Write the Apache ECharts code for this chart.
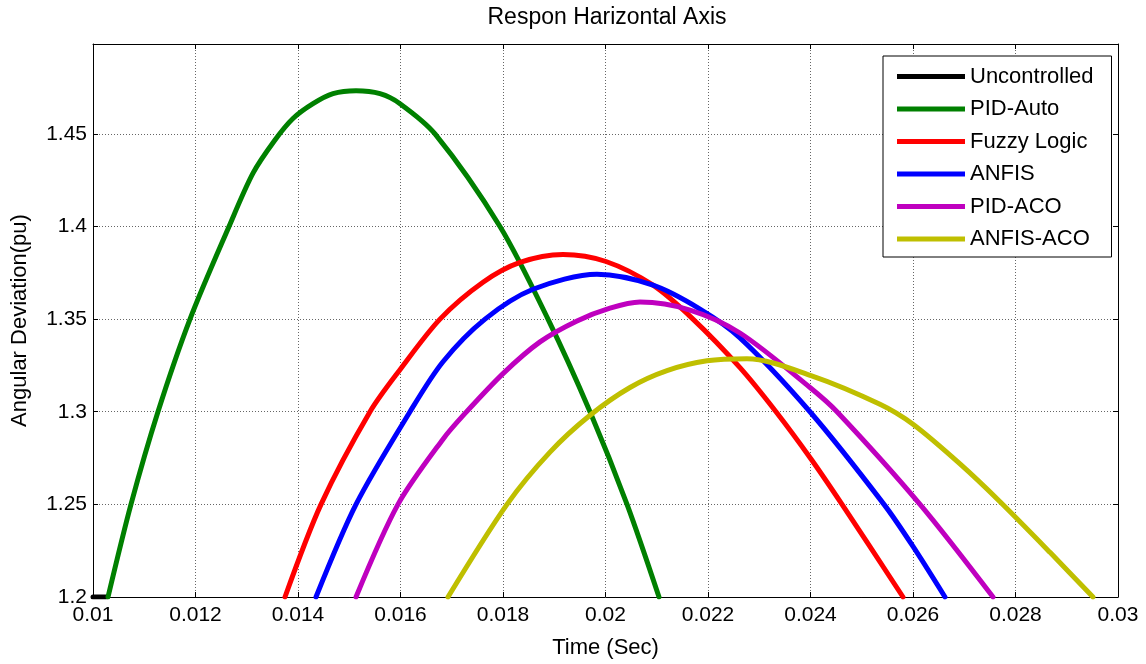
<!DOCTYPE html>
<html><head><meta charset="utf-8">
<script src="https://cdn.jsdelivr.net/npm/echarts@6/dist/echarts.min.js"></script>
<style>html,body{margin:0;padding:0;background:#fff}#c{width:1146px;height:664px}</style>
</head><body><div id="c"></div>
<script>
// ---- data ----
const seriesNames = ['Uncontrolled', 'PID-Auto', 'Fuzzy Logic', 'ANFIS', 'PID-ACO', 'ANFIS-ACO'];

const uncontrolledT = [0.0100, 0.01026];
const uncontrolledV = [1.2, 1.2];

const pidAutoT = [0.010293, 0.010741, 0.011268, 0.011893, 0.012654, 0.013122, 0.013551, 0.013902, 0.014293, 0.014683, 0.015132, 0.0156, 0.01599, 0.016673, 0.017941, 0.018878, 0.019698, 0.02042, 0.021044];
const pidAutoV = [1.2, 1.25, 1.3, 1.35, 1.4, 1.4288, 1.4467, 1.4583, 1.4663, 1.4717, 1.4733, 1.4717, 1.4663, 1.45, 1.4, 1.35, 1.3, 1.25, 1.2];

const fuzzyT = [0.013746, 0.014449, 0.015405, 0.01599, 0.016771, 0.01761, 0.018332, 0.019171, 0.02001, 0.020927, 0.021707, 0.022624, 0.023327, 0.02401, 0.024615, 0.025805];
const fuzzyV = [1.2, 1.25, 1.3, 1.3227, 1.35, 1.3699, 1.3806, 1.3849, 1.3811, 1.3683, 1.35, 1.3238, 1.3, 1.2745, 1.25, 1.2];

const anfisT = [0.014351, 0.015132, 0.016185, 0.016829, 0.017649, 0.018585, 0.019834, 0.020927, 0.021844, 0.022624, 0.02399, 0.025434, 0.026, 0.026624];
const anfisV = [1.2, 1.25, 1.3, 1.327, 1.35, 1.3661, 1.3742, 1.3683, 1.3554, 1.3399, 1.3, 1.25, 1.2273, 1.2];

const pidAcoT = [0.015132, 0.015951, 0.016829, 0.017259, 0.018, 0.018722, 0.019444, 0.020088, 0.020673, 0.021649, 0.022624, 0.02399, 0.024517, 0.026137, 0.027561];
const pidAcoV = [1.2, 1.25, 1.2852, 1.2991, 1.3206, 1.3377, 1.349, 1.3559, 1.3592, 1.3549, 1.3425, 1.3131, 1.3, 1.25, 1.2];

const anfisAcoT = [0.016927, 0.018078, 0.018917, 0.019698, 0.020478, 0.0212, 0.02198, 0.022761, 0.02401, 0.025356, 0.026, 0.026917, 0.027698, 0.028673, 0.029512];
const anfisAcoV = [1.2, 1.25, 1.2782, 1.2981, 1.3131, 1.3222, 1.3275, 1.3286, 1.3195, 1.304, 1.2932, 1.2718, 1.2514, 1.2241, 1.2];

const xRange = [0.01, 0.03];
const xStep = 0.002;
const yRange = [1.2, 1.4985];
const yStep = 0.05;

// ---- styling ----
const colors = ['#000000', '#008000', '#ff0000', '#0000ff', '#bf00bf', '#bfbf00'];
const FONT = 'Liberation Sans, Arial, Helvetica, sans-serif';

const allT = [uncontrolledT, pidAutoT, fuzzyT, anfisT, pidAcoT, anfisAcoT];
const allV = [uncontrolledV, pidAutoV, fuzzyV, anfisV, pidAcoV, anfisAcoV];

const series = seriesNames.map((name, i) => ({
  name: name,
  type: 'line',
  data: allT[i].map((t, k) => [t, allV[i][k]]),
  color: colors[i],
  showSymbol: false,
  symbol: 'none',
  smooth: 0.3,
  clip: true,
  lineStyle: { width: 5, color: colors[i], cap: 'round', join: 'round' },
  emphasis: { disabled: true },
  z: 2 + i
}));

const grid = { left: 93, right: 28, top: 44, bottom: 63 };
const splitLine = { show: true, lineStyle: { color: '#666', type: [1, 2], width: 1 } };
const tick = { show: true, inside: true, length: 5, lineStyle: { color: '#000', width: 1 } };
const line = { show: true, lineStyle: { color: '#000', width: 1 } };

const chart = echarts.init(document.getElementById('c'), null, { renderer: 'canvas' });
chart.setOption({
  animation: false,
  backgroundColor: '#fff',
  textStyle: { fontFamily: FONT },
  grid: grid,
  graphic: [{
    type: 'text', x: 607, y: 18,
    style: { text: 'Respon Harizontal Axis', fontFamily: FONT, fontSize: 23, fill: '#000', align: 'center', verticalAlign: 'middle' }
  }],
  xAxis: [{
    type: 'value', min: xRange[0], max: xRange[1], interval: xStep,
    name: 'Time (Sec)', nameLocation: 'middle', nameGap: 40,
    nameTextStyle: { fontFamily: FONT, fontSize: 22, color: '#000' },
    axisLine: line, axisTick: tick, splitLine: splitLine,
    axisLabel: { fontFamily: FONT, fontSize: 21, color: '#000', margin: 8 }
  }, {
    type: 'value', position: 'top', min: xRange[0], max: xRange[1], interval: xStep,
    axisLine: line, axisTick: tick, splitLine: { show: false }, axisLabel: { show: false }
  }],
  yAxis: [{
    type: 'value', min: yRange[0], max: yRange[1], interval: yStep,
    name: 'Angular Deviation(pu)', nameLocation: 'middle', nameGap: 62,
    nameTextStyle: { fontFamily: FONT, fontSize: 22, color: '#000' },
    axisLine: line, axisTick: tick, splitLine: splitLine,
    axisLabel: { fontFamily: FONT, fontSize: 21, color: '#000', margin: 6, showMaxLabel: false }
  }, {
    type: 'value', position: 'right', min: yRange[0], max: yRange[1], interval: yStep,
    axisLine: line, axisTick: tick, splitLine: { show: false }, axisLabel: { show: false }
  }],
  legend: {
    data: seriesNames, orient: 'vertical', left: 883, top: 56,
    padding: [9.5, 18, 7, 14], itemWidth: 68, itemHeight: 5, itemGap: 10.5,
    icon: 'rect', selectedMode: false,
    textStyle: { fontFamily: FONT, fontSize: 22, lineHeight: 22, color: '#000' },
    borderColor: '#000', borderWidth: 1, backgroundColor: '#fff', borderRadius: 0
  },
  series: series
});
</script></body></html>
